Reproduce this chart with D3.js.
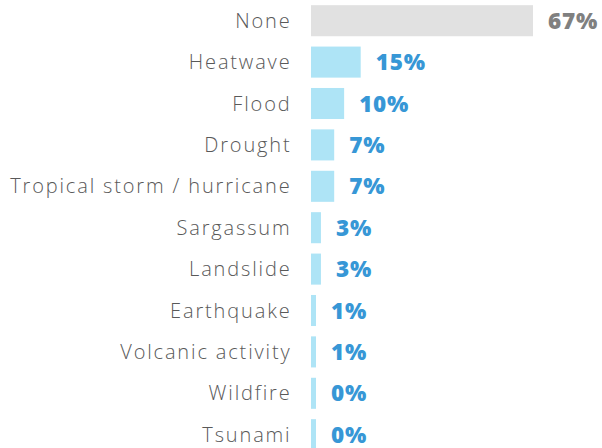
<!DOCTYPE html>
<html>
<head>
<meta charset="utf-8">
<script src="https://cdn.jsdelivr.net/npm/d3@7"></script>
<style>
  body { margin: 0; background: #fff; }
  svg { display: block; }
</style>
</head>
<body>
<script>
var categories = ["None", "Heatwave", "Flood", "Drought", "Tropical storm / hurricane",
    "Sargassum", "Landslide", "Earthquake", "Volcanic activity", "Wildfire", "Tsunami"];
var values = [67, 15, 10, 7, 7, 3, 3, 1, 1, 0, 0];
var valueLabels = ["67%", "15%", "10%", "7%", "7%", "3%", "3%", "1%", "1%", "0%", "0%"];

function init() {
    var w = 602;
    var h = 448;
    var barLeft = 311;

    var svg = d3.select("body")
        .append("svg")
        .attr("width", w)
        .attr("height", h);

    var y = d3.scaleBand()
        .domain(categories)
        .range([0, 11 * 41.4])
        .paddingInner(0.25)
        .paddingOuter(0.125);

    var x = d3.scaleLinear()
        .domain([0, 67])
        .range([0, 222]);

    var data = categories.map((c, i) => ({ cat: c, value: values[i], label: valueLabels[i] }));

    // min width so 0% / 1% still show a sliver
    var barW = d => Math.max(5, x(d.value));

    svg.selectAll("rect.bar")
        .data(data)
        .enter()
        .append("rect")
        .attr("class", "bar")
        .attr("x", barLeft)
        .attr("y", d => y(d.cat))
        .attr("width", barW)
        .attr("height", y.bandwidth())
        .style("fill", d => d.cat === "None" ? "#e1e1e1" : "#aee4f6");

    // category labels
    svg.selectAll("text.cat")
        .data(data)
        .enter()
        .append("text")
        .attr("class", "cat")
        .attr("x", 291.5)
        .attr("y", d => y(d.cat) + y.bandwidth() / 2)
        .attr("dy", "0.35em")
        .attr("text-anchor", "end")
        .style("font-family", "'Open Sans', sans-serif")
        .style("font-weight", 300)
        .style("font-size", "20px")
        .style("letter-spacing", "1.85px")
        .style("fill", "#595959")
        .text(d => d.cat);

    // value labels
    svg.selectAll("text.val")
        .data(data)
        .enter()
        .append("text")
        .attr("class", "val")
        .attr("x", d => barLeft + barW(d) + 15)
        .attr("y", d => y(d.cat) + y.bandwidth() / 2)
        .attr("dy", "0.36em")
        .style("font-family", "'Open Sans', sans-serif")
        .style("font-weight", 800)
        .style("font-size", "22.5px")
        .style("letter-spacing", "0.8px")
        .style("fill", d => d.cat === "None" ? "#808080" : "#3797d6")
        .text(d => d.label);
}

window.onload = init;
</script>
</body>
</html>
